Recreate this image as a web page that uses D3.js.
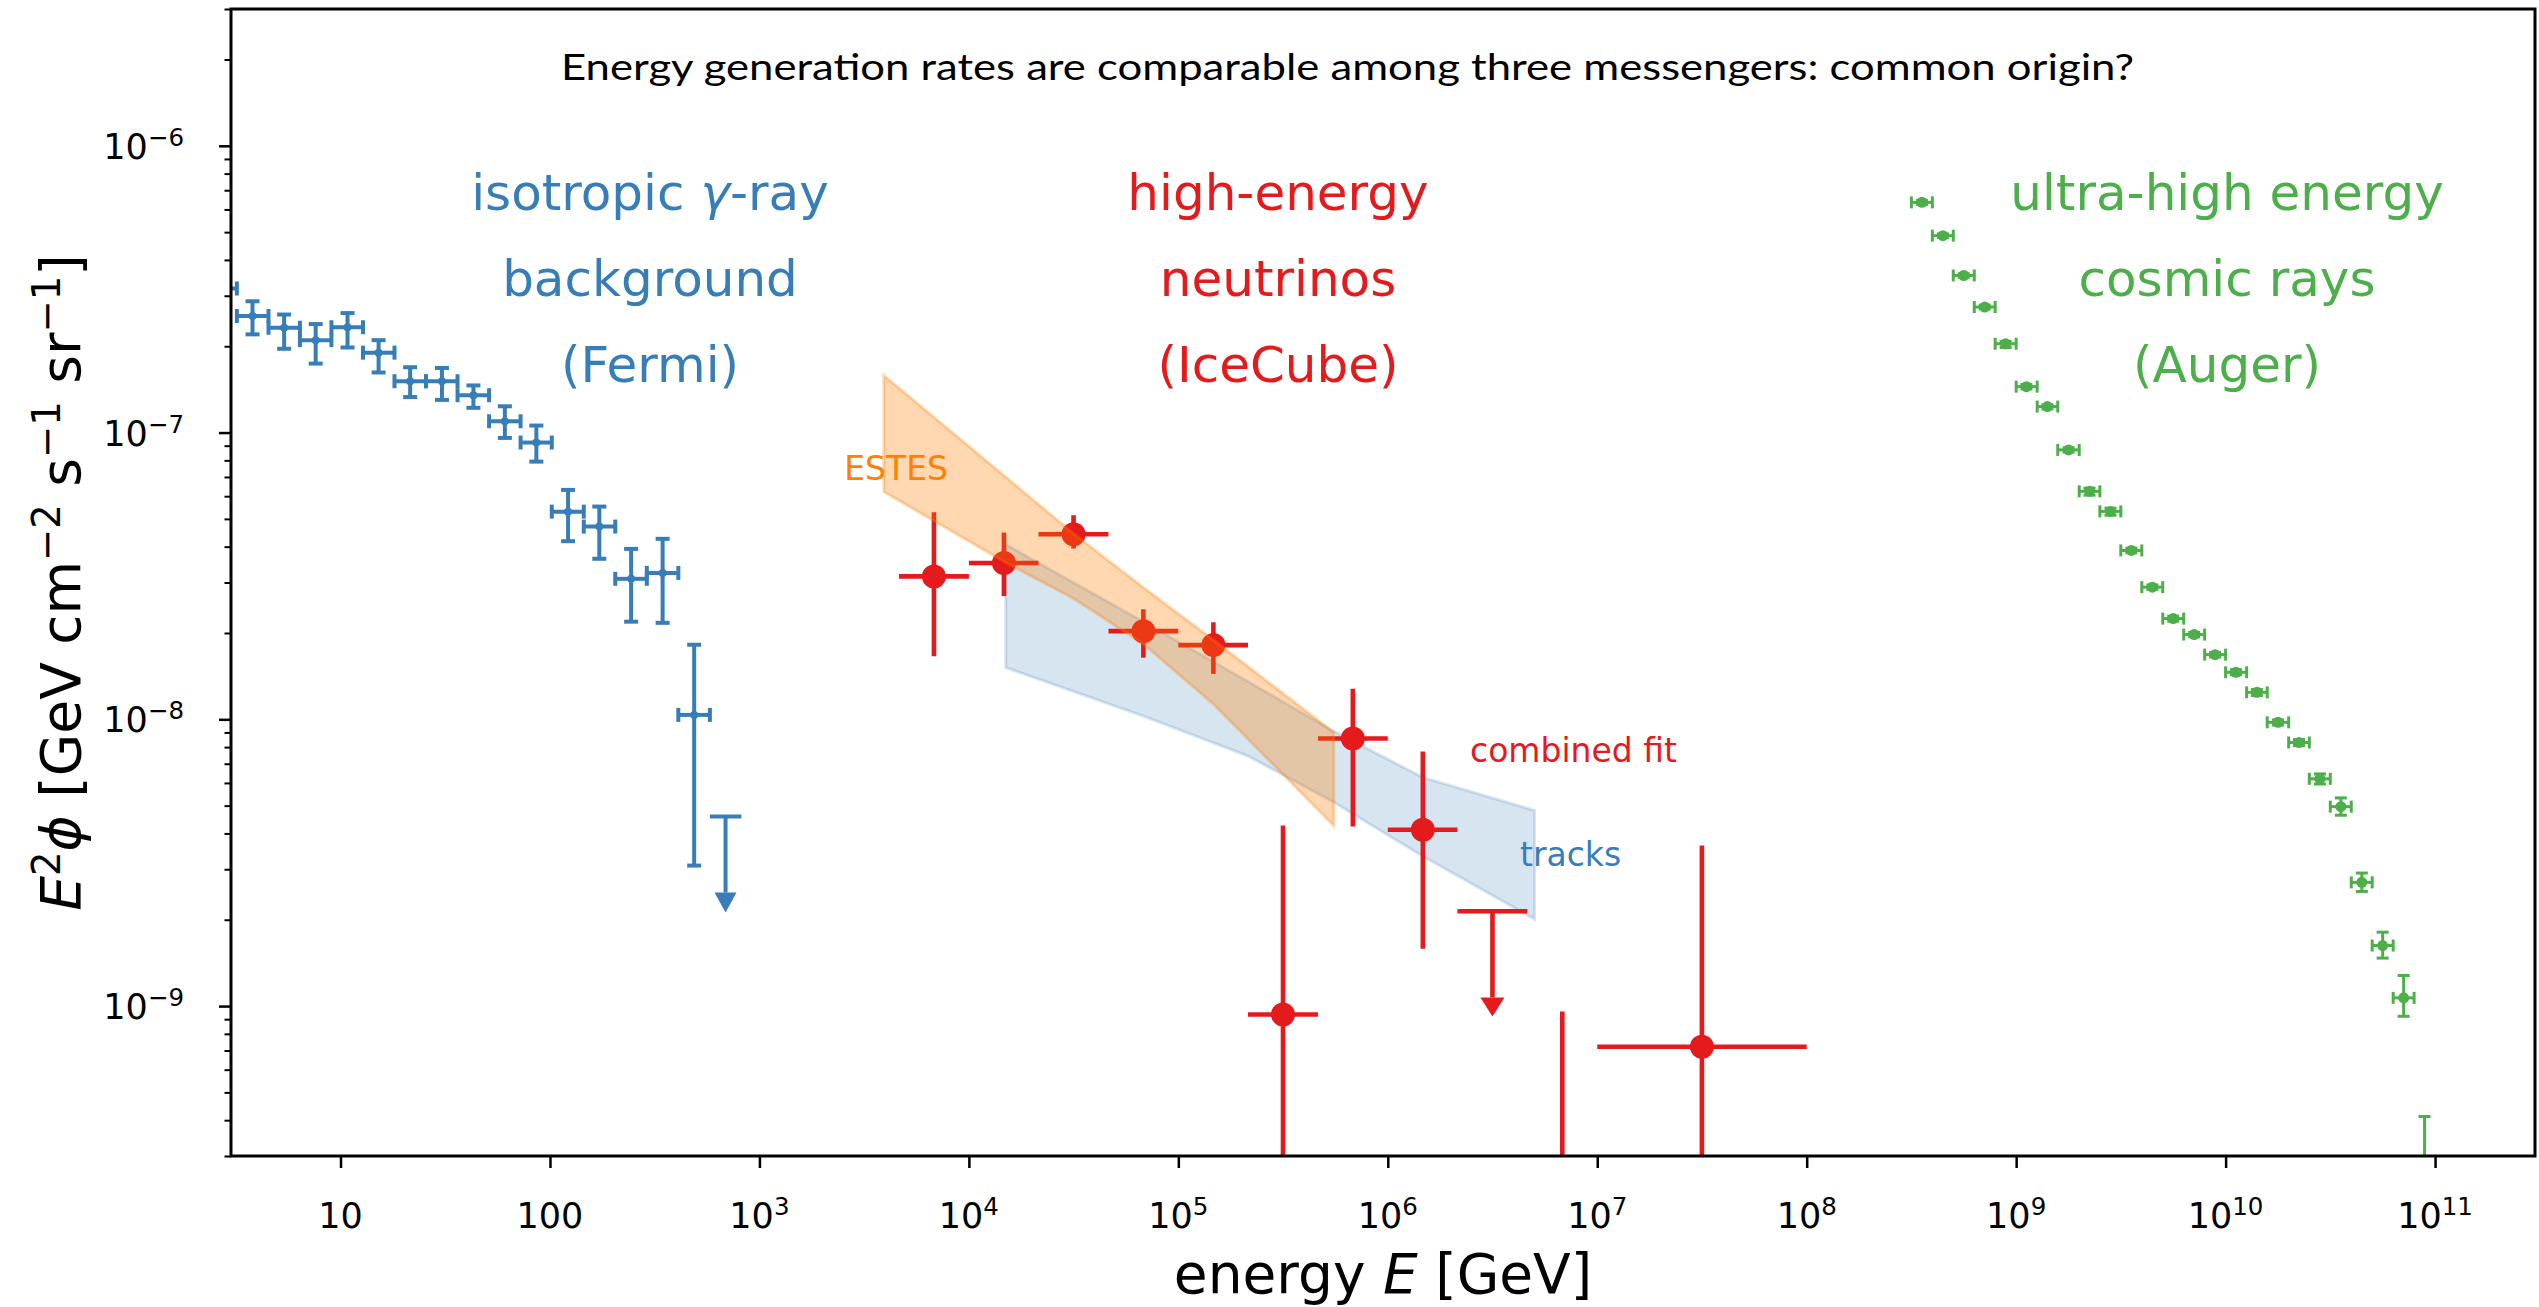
<!DOCTYPE html>
<html>
<head>
<meta charset="utf-8">
<script src="https://cdn.jsdelivr.net/npm/d3@7"></script>
<style>
  body { margin: 0; background: #fff; }
  svg { display: block; }
  text { font-family: "DejaVu Sans", sans-serif; }
</style>
</head>
<body>
<svg id="chart" width="2539" height="1307"></svg>
<script>
// Fermi isotropic gamma-ray background
let fermiE = [2.69, 3.80, 5.38, 7.61, 10.8, 15.2, 21.5, 30.5, 43.1, 60.9, 86.1, 122, 172, 244, 345, 488];
let fermiF = [3.18e-7, 2.55e-7, 2.32e-7, 2.10e-7, 2.33e-7, 1.90e-7, 1.51e-7, 1.51e-7, 1.35e-7, 1.095e-7, 9.23e-8, 5.30e-8, 4.70e-8, 3.09e-8, 3.24e-8, 1.036e-8];
let fermiHi = [3.5e-7, 2.87e-7, 2.58e-7, 2.39e-7, 2.61e-7, 2.10e-7, 1.69e-7, 1.68e-7, 1.46e-7, 1.235e-7, 1.058e-7, 6.31e-8, 5.52e-8, 3.93e-8, 4.26e-8, 1.82e-8];
let fermiLo = [2.9e-7, 2.20e-7, 1.96e-7, 1.74e-7, 1.98e-7, 1.62e-7, 1.33e-7, 1.30e-7, 1.22e-7, 9.58e-8, 7.92e-8, 4.18e-8, 3.63e-8, 2.19e-8, 2.17e-8, 3.09e-9];
let fermiEdges = [2.26, 3.20, 4.53, 6.40, 9.05, 12.8, 18.1, 25.6, 36.2, 51.2, 72.4, 102, 145, 205, 290, 410, 580, 820];
let fermiUl = {e: 689, emin: 580, emax: 820, f: 4.58e-9, tip: 2.12e-9};

// IceCube combined fit
let nuE = [6.81e3, 1.47e4, 3.16e4, 6.81e4, 1.47e5, 3.16e5, 6.81e5, 1.47e6, 6.81e6, 3.16e7];
let nuF = [3.15e-8, 3.51e-8, 4.42e-8, 2.03e-8, 1.815e-8, 9.34e-10, 8.57e-9, 4.12e-9, 1.0e-10, 7.21e-10];
let nuHi = [5.27e-8, 4.48e-8, 5.15e-8, 2.42e-8, 2.18e-8, 4.26e-9, 1.277e-8, 7.72e-9, 9.57e-10, 3.63e-9];
let nuLo = [1.66e-8, 2.69e-8, 3.94e-8, 1.64e-8, 1.44e-8, 1.0e-10, 4.23e-9, 1.586e-9, 1.0e-11, 1.0e-10];
let nuEmin = [4.64e3, 1e4, 2.15e4, 4.64e4, 1e5, 2.15e5, 4.64e5, 1e6, 4.64e6, 1e7];
let nuEmax = [1e4, 2.15e4, 4.64e4, 1e5, 2.15e5, 4.64e5, 1e6, 2.15e6, 1e7, 1e8];
let nuUl = {e: 3.16e6, emin: 2.15e6, emax: 4.64e6, f: 2.14e-9, tip: 9.2e-10};

// ESTES and tracks bands
let estesE = [3.93e3, 1.47e4, 3.16e4, 6.81e4, 1.47e5, 5.52e5];
let estesHi = [1.58e-7, 7.08e-8, 4.44e-8, 2.88e-8, 1.89e-8, 9.0e-9];
let estesLo = [6.22e-8, 3.55e-8, 2.64e-8, 1.83e-8, 1.13e-8, 4.26e-9];
let tracksE = [1.5e4, 6.81e4, 2.15e5, 5.52e5, 1.47e6, 5.02e6];
let tracksHi = [4.07e-8, 2.19e-8, 1.354e-8, 9.09e-9, 6.27e-9, 4.81e-9];
let tracksLo = [1.515e-8, 1.026e-8, 7.45e-9, 5.14e-9, 3.33e-9, 2.01e-9];

// Auger UHECR spectrum
let augerE = [3.55e8, 4.47e8, 5.62e8, 7.08e8, 8.91e8, 1.12e9, 1.41e9, 1.78e9, 2.24e9, 2.82e9, 3.55e9, 4.47e9, 5.62e9, 7.08e9, 8.91e9,
  1.12e10, 1.41e10, 1.78e10, 2.24e10, 2.82e10, 3.55e10, 4.47e10, 5.62e10, 7.08e10, 8.91e10];
let augerEdges = [3.16e8, 3.98e8, 5.01e8, 6.31e8, 7.94e8, 1e9, 1.26e9, 1.58e9, 2e9, 2.51e9, 3.16e9, 3.98e9, 5.01e9, 6.31e9, 7.94e9,
  1e10, 1.26e10, 1.58e10, 2e10, 2.51e10, 3.16e10, 3.98e10, 5.01e10, 6.31e10, 7.94e10, 1e11];
let augerF = [6.35e-7, 4.86e-7, 3.53e-7, 2.74e-7, 2.04e-7, 1.446e-7, 1.232e-7, 8.70e-8, 6.24e-8, 5.31e-8, 3.88e-8, 2.89e-8, 2.245e-8,
  1.975e-8, 1.681e-8, 1.459e-8, 1.242e-8, 9.76e-9, 8.30e-9, 6.20e-9, 4.96e-9, 2.70e-9, 1.626e-9, 1.068e-9, 1.0e-10];
let augerHi = [6.45e-7, 4.93e-7, 3.58e-7, 2.78e-7, 2.08e-7, 1.47e-7, 1.25e-7, 8.85e-8, 6.40e-8, 5.45e-8, 3.95e-8, 2.94e-8, 2.29e-8,
  2.01e-8, 1.71e-8, 1.49e-8, 1.27e-8, 9.95e-9, 8.50e-9, 6.45e-9, 5.32e-9, 2.91e-9, 1.81e-9, 1.278e-9, 4.12e-10];
let augerLo = [6.25e-7, 4.79e-7, 3.48e-7, 2.70e-7, 1.98e-7, 1.42e-7, 1.21e-7, 8.55e-8, 6.05e-8, 5.15e-8, 3.81e-8, 2.84e-8, 2.20e-8,
  1.94e-8, 1.65e-8, 1.43e-8, 1.21e-8, 9.55e-9, 8.10e-9, 5.95e-9, 4.63e-9, 2.51e-9, 1.47e-9, 9.21e-10, 5e-11];

let xTicks = [10, 100, 1e3, 1e4, 1e5, 1e6, 1e7, 1e8, 1e9, 1e10, 1e11];
let xTickExp = [null, null, 3, 4, 5, 6, 7, 8, 9, 10, 11];
let yTicks = [1e-6, 1e-7, 1e-8, 1e-9];
let yTickExp = [-6, -7, -8, -9];

const blue = '#377eb8', red = '#e41a1c', green = '#4daf4a', orange = '#ff7f00';

const W = 2539, H = 1307;
const margin = {top: 9, right: 4, bottom: 151, left: 231};

let svg = d3.select('#chart');

let x = d3.scaleLog().domain([3, 3e11]).range([margin.left, W - margin.right]);
let y = d3.scaleLog().domain([3e-10, 3e-6]).range([H - margin.bottom, margin.top]);

svg.append('defs').append('clipPath').attr('id', 'plot_clip')
  .append('rect')
  .attr('x', margin.left).attr('y', margin.top)
  .attr('width', W - margin.left - margin.right)
  .attr('height', H - margin.top - margin.bottom);

let plot = svg.append('g').attr('clip-path', 'url(#plot_clip)');

function zip_points(E, F, lo, hi, emin, emax) {
  return E.map((e, i) => ({e: e, f: F[i], lo: lo[i], hi: hi[i], emin: emin[i], emax: emax[i]}));
}

function draw_band(E, lo, hi, color, alpha) {
  let pts = E.map((e, i) => ({e: e, lo: lo[i], hi: hi[i]}));
  let area = d3.area()
    .x(d => x(d.e))
    .y0(d => y(d.lo))
    .y1(d => y(d.hi));
  plot.append('path')
    .datum(pts)
    .attr('d', area)
    .style('fill', color)
    .style('fill-opacity', alpha)
    .style('stroke', color)
    .style('stroke-opacity', alpha)
    .style('stroke-width', 3);
}

function seg(layer, x1, y1, x2, y2, color, lw) {
  layer.append('line')
    .attr('x1', x1).attr('y1', y1)
    .attr('x2', x2).attr('y2', y2)
    .style('stroke', color)
    .style('stroke-width', lw);
}

function draw_errorbars(pts, st) {
  let layer = plot.append('g');
  pts.forEach((d) => {
    let cx = x(d.e), cy = y(d.f);
    seg(layer, cx, y(d.lo), cx, y(d.hi), st.color, st.lw);
    seg(layer, x(d.emin), cy, x(d.emax), cy, st.color, st.lw);
    if (st.cap > 0) {
      [d.lo, d.hi].forEach(v => seg(layer, cx - st.cap, y(v), cx + st.cap, y(v), st.color, st.lw));
      [d.emin, d.emax].forEach(e => seg(layer, x(e), cy - st.cap, x(e), cy + st.cap, st.color, st.lw));
    }
    layer.append('circle')
      .attr('cx', cx).attr('cy', cy).attr('r', st.r)
      .style('fill', st.color);
  });
}

function draw_upper_limit(d, st) {
  let layer = plot.append('g');
  let cx = x(d.e), cy = y(d.f), ty = y(d.tip);
  seg(layer, x(d.emin), cy, x(d.emax), cy, st.color, st.lw);
  seg(layer, cx, cy, cx, ty - st.head, st.color, st.lw);
  layer.append('path')
    .attr('d', `M${cx - st.hw},${ty - st.head} L${cx + st.hw},${ty - st.head} L${cx},${ty} Z`)
    .style('fill', st.color);
}

// bands and data
draw_band(tracksE, tracksLo, tracksHi, blue, 0.2);

draw_errorbars(zip_points(fermiE, fermiF, fermiLo, fermiHi, fermiEdges.slice(0, -2), fermiEdges.slice(1, -1)),
  {color: blue, lw: 4, cap: 7, r: 4});
draw_upper_limit(fermiUl, {color: blue, lw: 4, head: 20, hw: 11});

draw_errorbars(zip_points(augerE, augerF, augerLo, augerHi, augerEdges.slice(0, -1), augerEdges.slice(1)),
  {color: green, lw: 3, cap: 6, r: 5.5});

draw_errorbars(zip_points(nuE, nuF, nuLo, nuHi, nuEmin, nuEmax),
  {color: red, lw: 4.6, cap: 0, r: 12});
draw_upper_limit(nuUl, {color: red, lw: 4.6, head: 19, hw: 12});

draw_band(estesE, estesLo, estesHi, orange, 0.3);

// text helpers
function rich_text(g, parts, size) {
  let t = g;
  let shift = 0;
  parts.forEach((p) => {
    let sp = t.append('tspan').text(p.t);
    let raise = p.sup ? Math.round(size * 0.36) : 0;
    if (raise !== shift) {
      sp.attr('dy', shift - raise);
      shift = raise;
    }
    if (p.sup) sp.attr('font-size', size * 0.7);
    if (p.it) sp.style('font-style', 'italic');
  });
  return t;
}

// annotations
let labels = [
  {x: 650, color: blue, lines: [[{t: 'isotropic '}, {t: 'γ', it: true}, {t: '-ray'}], [{t: 'background'}], [{t: '(Fermi)'}]]},
  {x: 1278, color: red, lines: [[{t: 'high-energy'}], [{t: 'neutrinos'}], [{t: '(IceCube)'}]]},
  {x: 2227, color: green, lines: [[{t: 'ultra-high energy'}], [{t: 'cosmic rays'}], [{t: '(Auger)'}]]}
];
let labelBase = [210, 296, 382];
labels.forEach((lab) => {
  lab.lines.forEach((ln, i) => {
    let t = svg.append('text')
      .attr('x', lab.x).attr('y', labelBase[i])
      .attr('text-anchor', 'middle')
      .style('font-size', '50px')
      .style('fill', lab.color);
    rich_text(t, ln, 50);
  });
});

svg.append('text').attr('x', 948).attr('y', 480).attr('text-anchor', 'end')
  .style('font-size', '33px').style('fill', orange).text('ESTES');
svg.append('text').attr('x', 1470).attr('y', 762)
  .style('font-size', '33px').style('fill', red).text('combined fit');
svg.append('text').attr('x', 1520).attr('y', 866)
  .style('font-size', '33px').style('fill', blue).text('tracks');

svg.append('text')
  .attr('x', 561).attr('y', 80)
  .attr('textLength', 1573).attr('lengthAdjust', 'spacingAndGlyphs')
  .style('font-family', 'Futura, "Century Gothic", "URW Gothic", Lato, sans-serif')
  .style('font-size', '37px')
  .style('fill', '#000')
  .text('Energy generation rates are comparable among three messengers: common origin?');

// axes
let x0 = margin.left, x1 = W - margin.right, y0 = H - margin.bottom, y1 = margin.top;

let xg = svg.append('g').attr('transform', `translate(0,${y0})`)
  .call(d3.axisBottom(x).tickValues(xTicks).tickSize(12).tickFormat(''));
xg.select('.domain').remove();
xg.selectAll('line').style('stroke-width', 2.5);

xTicks.forEach((t, i) => {
  let lab = svg.append('text')
    .attr('x', x(t)).attr('y', 1228)
    .attr('text-anchor', 'middle')
    .style('font-size', '35px');
  if (xTickExp[i] === null) {
    lab.text(d3.format('d')(t));
  } else {
    rich_text(lab, [{t: '10'}, {t: String(xTickExp[i]), sup: true}], 35);
  }
});

let yMinor = [];
[-10, -9, -8, -7, -6].forEach((k) => {
  for (let m = 2; m <= 9; m++) {
    let v = m * Math.pow(10, k);
    if (v >= 3e-10 && v <= 3e-6) yMinor.push(v);
  }
});

let yg = svg.append('g').attr('transform', `translate(${x0},0)`)
  .call(d3.axisLeft(y).tickValues(yTicks).tickSize(12).tickFormat(''));
yg.select('.domain').remove();
yg.selectAll('line').style('stroke-width', 2.5);

let ygm = svg.append('g').attr('transform', `translate(${x0},0)`)
  .call(d3.axisLeft(y).tickValues(yMinor).tickSize(6.5).tickFormat(''));
ygm.select('.domain').remove();
ygm.selectAll('line').style('stroke-width', 2);

yTicks.forEach((t, i) => {
  let lab = svg.append('text')
    .attr('x', 184).attr('y', y(t) + 13)
    .attr('text-anchor', 'end')
    .style('font-size', '35px');
  rich_text(lab, [{t: '10'}, {t: '\u2212' + Math.abs(yTickExp[i]), sup: true}], 35);
});

svg.append('rect')
  .attr('x', x0).attr('y', y1)
  .attr('width', x1 - x0).attr('height', y0 - y1)
  .style('fill', 'none')
  .style('stroke', '#000')
  .style('stroke-width', 3);

// axis titles
let xl = svg.append('text')
  .attr('x', (x0 + x1) / 2).attr('y', 1293)
  .attr('text-anchor', 'middle')
  .style('font-size', '55px');
rich_text(xl, [{t: 'energy '}, {t: 'E', it: true}, {t: ' [GeV]'}], 55);

let yl = svg.append('text')
  .attr('transform', `translate(80,${(y0 + y1) / 2}) rotate(-90)`)
  .attr('text-anchor', 'middle')
  .style('font-size', '55px');
rich_text(yl, [
  {t: 'E', it: true}, {t: '2', sup: true}, {t: '\u03d5', it: true},
  {t: ' [GeV cm'}, {t: '\u22122', sup: true}, {t: ' s'}, {t: '\u22121', sup: true},
  {t: ' sr'}, {t: '\u22121', sup: true}, {t: ']'}
], 55);
</script>
</body>
</html>
